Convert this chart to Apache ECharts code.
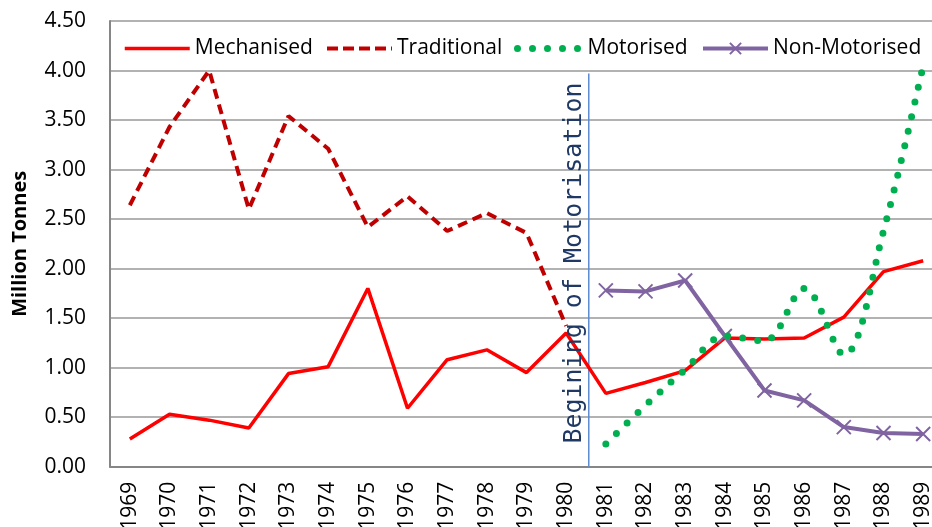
<!DOCTYPE html>
<html>
<head>
<meta charset="utf-8">
<script src="https://cdn.jsdelivr.net/npm/echarts@6/dist/echarts.min.js"></script>
<style>html,body{margin:0;padding:0;background:#fff;}#c{width:932px;height:527px;}</style>
</head>
<body>
<div id="c"></div>
<script>
var years = ['1969','1970','1971','1972','1973','1974','1975','1976','1977','1978','1979','1980','1981','1982','1983','1984','1985','1986','1987','1988','1989'];
var mechanised = [0.28,0.53,0.47,0.39,0.94,1.01,1.80,0.59,1.08,1.18,0.95,1.35,0.74,0.85,0.97,1.30,1.29,1.30,1.51,1.97,2.08];
var traditional = [2.64,3.43,4.00,2.60,3.54,3.21,2.42,2.73,2.38,2.56,2.36,1.42,null,null,null,null,null,null,null,null,null];
var motorised = [null,null,null,null,null,null,null,null,null,null,null,null,0.23,0.62,0.98,1.32,1.27,1.80,1.13,2.38,4.05];
var nonMotorised = [null,null,null,null,null,null,null,null,null,null,null,null,1.78,1.77,1.88,1.32,0.77,0.67,0.40,0.34,0.33];
var yTicks = [0,0.5,1,1.5,2,2.5,3,3.5,4,4.5];
var annotation = 'Begining of Motorisation';
var markerPos = 11.57;   // between 1980 and 1981
var markerTop = 3.97;

var chart = echarts.init(document.getElementById('c'), null, {renderer:'canvas'});
var font = 'Open Sans';
function lg(name, left, lineStyle, showSym){
  return {data:[name], left:left, top:33, itemWidth:65, itemHeight:14, itemGap:0,
    lineStyle:lineStyle, itemStyle: showSym ? {} : {opacity:0},
    textStyle:{fontFamily:font, fontSize:21, color:'#000', padding:[0,0,0,0]}};
}
chart.setOption({
  animation:false,
  backgroundColor:'#fff',
  legend:[
    lg('Mechanised',118,{width:3.5},false),
    lg('Traditional',320,{width:4,type:[11,5]},false),
    lg('Motorised',509,{width:7,type:[0,15],cap:'round'},false),
    lg('Non-Motorised',696,{width:4},true)],
  grid:{left:110, top:21, width:833, height:445.7, outerBoundsMode:'none', containLabel:false},
  xAxis:{type:'category', data:years, boundaryGap:true,
    axisLine:{lineStyle:{color:'#868686', width:2}}, axisTick:{show:false},
    axisLabel:{rotate:90, margin:15, fontFamily:font, fontSize:21, color:'#000', interval:0}},
  yAxis:{type:'value', min:0, max:4.5, interval:0.5,
    name:'Million Tonnes', nameLocation:'middle', nameGap:80, nameRotate:90,
    nameTextStyle:{fontFamily:font, fontSize:20, fontWeight:'bold', color:'#000'},
    axisLine:{show:true, lineStyle:{color:'#868686', width:2}}, axisTick:{show:false},
    axisLabel:{fontFamily:font, fontSize:21, color:'#000', margin:24,
      formatter:function(v){return v.toFixed(2);}},
    splitLine:{lineStyle:{color:'#999', width:1.5}}},
  series:[
    {name:'Mechanised', type:'line', data:mechanised, symbol:'none',
      lineStyle:{color:'#ff0000', width:3.5}, itemStyle:{color:'#ff0000'}, z:3},
    {name:'Traditional', type:'line', data:traditional, symbol:'none',
      lineStyle:{color:'#c00000', width:4, type:[10,6]}, itemStyle:{color:'#c00000'}, z:2},
    {name:'Motorised', type:'line', data:motorised, symbol:'none', smooth:0.35,
      lineStyle:{color:'#00b050', width:7, type:[0,15], cap:'round'}, itemStyle:{color:'#00b050'}, z:4},
    {name:'Non-Motorised', type:'line', data:nonMotorised,
      symbol:'path://M0,0L10,10M10,0L0,10', symbolSize:14, showSymbol:true,
      lineStyle:{color:'#8064a2', width:4}, itemStyle:{color:'none', borderColor:'#8064a2', borderWidth:2}, z:3}
  ]
});
var i0 = Math.floor(markerPos), f = markerPos - i0;
var xa = chart.convertToPixel({xAxisIndex:0}, i0);
var xb = chart.convertToPixel({xAxisIndex:0}, i0 + 1);
var lx = xa + f * (xb - xa);
var yBot = chart.convertToPixel({yAxisIndex:0}, 0);
var yTop = chart.convertToPixel({yAxisIndex:0}, markerTop);
chart.setOption({
  graphic:[
    {type:'line', shape:{x1:lx, y1:yBot, x2:lx, y2:yTop}, style:{stroke:'#5b8bd0', lineWidth:1.5}, z:1},
    {type:'text', x:lx - 14, y:263, rotation:Math.PI/2,
      style:{text:annotation, fontFamily:'DejaVu Sans Mono', fontSize:25, fill:'#1f3864', align:'center', verticalAlign:'middle'}, z:10}
  ]
});
</script>
</body>
</html>
